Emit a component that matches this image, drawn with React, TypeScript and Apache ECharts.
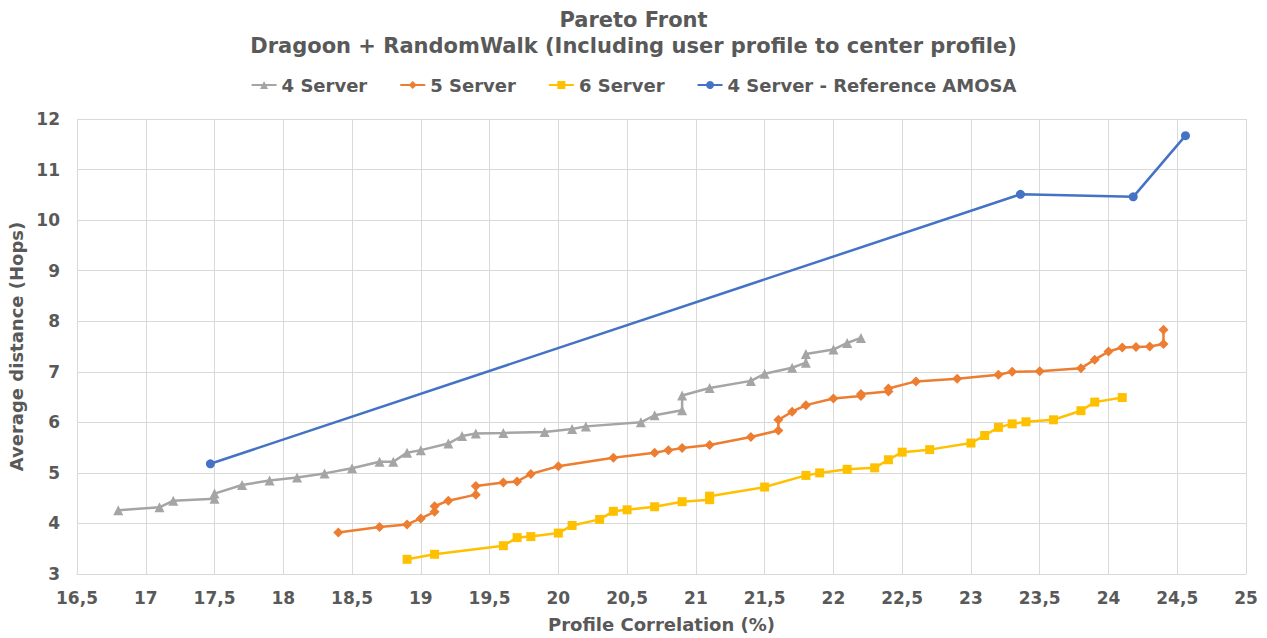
import React, { useEffect, useRef } from "react";
import * as echarts from "echarts";

const server4: [number, number][] = [
  [16.8, 4.26], [17.1, 4.32], [17.2, 4.45], [17.5, 4.49], [17.5, 4.59], [17.7, 4.76], [17.9, 4.85],
  [18.1, 4.91], [18.3, 4.99], [18.5, 5.09], [18.7, 5.22], [18.8, 5.22], [18.9, 5.4], [19.0, 5.45],
  [19.2, 5.58], [19.3, 5.73], [19.4, 5.78], [19.6, 5.79], [19.9, 5.81], [20.1, 5.87], [20.2, 5.92],
  [20.6, 6.0], [20.7, 6.14], [20.9, 6.24], [20.9, 6.53], [21.1, 6.68], [21.4, 6.82], [21.5, 6.96],
  [21.7, 7.08], [21.8, 7.18], [21.8, 7.35], [22.0, 7.44], [22.1, 7.57], [22.2, 7.67],
];

const server5: [number, number][] = [
  [18.4, 3.82], [18.7, 3.93], [18.9, 3.98], [19.0, 4.1], [19.1, 4.23], [19.1, 4.34], [19.2, 4.45],
  [19.4, 4.57], [19.4, 4.74], [19.6, 4.81], [19.7, 4.83], [19.8, 4.98], [20.0, 5.13], [20.4, 5.3],
  [20.7, 5.4], [20.8, 5.45], [20.9, 5.49], [21.1, 5.55], [21.4, 5.71], [21.6, 5.84], [21.6, 6.05],
  [21.7, 6.21], [21.8, 6.34], [22.0, 6.47], [22.2, 6.52], [22.2, 6.56], [22.4, 6.61], [22.4, 6.67],
  [22.6, 6.81], [22.9, 6.86], [23.2, 6.94], [23.3, 7.0], [23.5, 7.01], [23.8, 7.07], [23.9, 7.24],
  [24.0, 7.4], [24.1, 7.48], [24.2, 7.49], [24.3, 7.5], [24.4, 7.55], [24.4, 7.83],
];

const server6: [number, number][] = [
  [18.9, 3.29], [19.1, 3.39], [19.6, 3.56], [19.7, 3.72], [19.8, 3.74], [20.0, 3.81], [20.1, 3.96],
  [20.3, 4.08], [20.4, 4.24], [20.5, 4.27], [20.7, 4.33], [20.9, 4.43], [21.1, 4.47], [21.1, 4.54],
  [21.5, 4.72], [21.8, 4.95], [21.9, 5.0], [22.1, 5.07], [22.3, 5.1], [22.4, 5.26], [22.5, 5.41],
  [22.7, 5.46], [23.0, 5.59], [23.1, 5.74], [23.2, 5.9], [23.3, 5.97], [23.4, 6.01], [23.6, 6.05],
  [23.8, 6.23], [23.9, 6.4], [24.1, 6.49],
];

const amosa4: [number, number][] = [
  [17.47, 5.18], [23.36, 10.51], [24.18, 10.46], [24.56, 11.67],
];

const FONT = "'DejaVu Sans', Verdana, sans-serif";
const TXT = "#595959";

export default function App() {
  const ref = useRef<HTMLDivElement>(null);
  useEffect(() => {
    if (!ref.current) return;
    const chart = echarts.init(ref.current, undefined, { renderer: "svg" });
    const mk = (name: string, data: [number, number][], color: string, symbol: string, size: number) => ({
      name,
      type: "line",
      data,
      symbol,
      symbolSize: size,
      itemStyle: { color },
      lineStyle: { color, width: 2.5 },
    });
    chart.setOption({
      animation: false,
      backgroundColor: "#ffffff",
      textStyle: { fontFamily: FONT },
      title: {
        text: "Pareto Front\nDragoon + RandomWalk (Including user profile to center profile)",
        left: "center",
        top: 7,
        padding: 0,
        textStyle: { fontFamily: FONT, fontSize: 21, fontWeight: "bold", color: TXT, lineHeight: 26 },
      },
      legend: {
        top: 76,
        left: "center",
        padding: 0,
        itemWidth: 25,
        itemHeight: 10,
        itemGap: 32,
        textStyle: { fontFamily: FONT, fontSize: 18, fontWeight: "bold", color: TXT },
        data: ["4 Server", "5 Server", "6 Server", "4 Server - Reference AMOSA"],
      },
      grid: { left: 77, right: 21, top: 119, bottom: 64, containLabel: false, outerBoundsMode: "none" },
      xAxis: {
        type: "value",
        min: 16.5,
        max: 25,
        interval: 0.5,
        name: "Profile Correlation (%)",
        nameLocation: "middle",
        nameGap: 41,
        nameTextStyle: { fontFamily: FONT, fontSize: 18, fontWeight: "bold", color: TXT },
        axisLine: { lineStyle: { color: "#D9D9D9" } },
        axisTick: { show: false },
        splitLine: { show: true, lineStyle: { color: "#D9D9D9", width: 1 } },
        axisLabel: {
          fontFamily: FONT,
          fontSize: 17,
          fontWeight: "bold",
          color: TXT,
          margin: 15,
          formatter: (v: number) => String(v).replace(".", ","),
        },
      },
      yAxis: {
        type: "value",
        min: 3,
        max: 12,
        interval: 1,
        name: "Average distance (Hops)",
        nameLocation: "middle",
        nameGap: 49,
        nameTextStyle: { fontFamily: FONT, fontSize: 18, fontWeight: "bold", color: TXT },
        axisLine: { show: false },
        axisTick: { show: false },
        splitLine: { show: true, lineStyle: { color: "#D9D9D9", width: 1 } },
        axisLabel: { fontFamily: FONT, fontSize: 17, fontWeight: "bold", color: TXT, margin: 17 },
      },
      series: [
        mk("4 Server", server4, "#A5A5A5", "triangle", 10),
        mk("5 Server", server5, "#ED7D31", "diamond", 10),
        mk("6 Server", server6, "#FFC000", "rect", 9),
        mk("4 Server - Reference AMOSA", amosa4, "#4472C4", "circle", 9),
      ],
    });
    return () => chart.dispose();
  }, []);
  return (
    <div
      ref={ref}
      style={{ position: "absolute", left: 0, top: 0, width: 1267, height: 638 }}
    />
  );
}
